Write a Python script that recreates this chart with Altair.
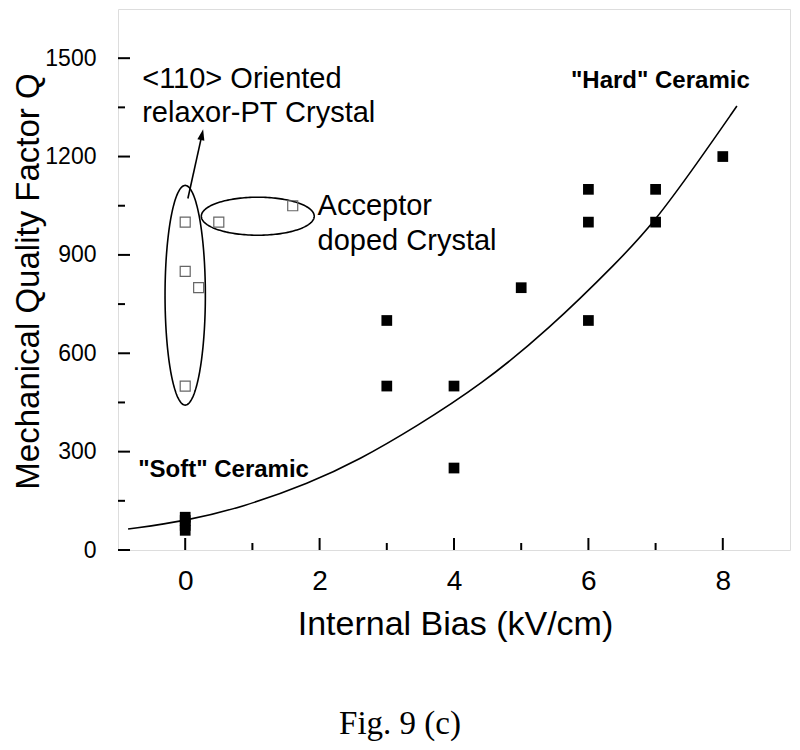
import altair as alt
import pandas as pd
import numpy as np

# ---- data ----
x_open = [0, 0, 0.2, 0, 0.5, 1.6]
q_open = [1000, 850, 800, 500, 1000, 1050]

x_fill = [0, 0, 0, 0, 3, 3, 4, 4, 5, 6, 6, 6, 7, 7, 8]
q_fill = [60, 75, 90, 100, 700, 500, 500, 250, 800, 1100, 1000, 700, 1100, 1000, 1200]

curve_x = [-0.85, 0, 0.86, 1.85, 2.59, 3.43, 4.41, 5.4, 6.46, 6.97, 7.62, 8.21]
curve_y = [64, 88, 131, 204, 275, 375, 505, 671, 884, 997, 1180, 1354]

x_major = [0, 2, 4, 6, 8]
x_minor = [1, 3, 5, 7]
y_major = [0, 300, 600, 900, 1200, 1500]
y_minor = [150, 450, 750, 1050, 1350]

# annotation ellipses (center / radii in data units)
ell_cx = [0, 1.08]
ell_cy = [777, 1018]
ell_rx = [0.30, 0.84]
ell_ry = [335, 58]

arrow_x = [0.04, 0.25]
arrow_y = [1072, 1267]

label_text = ["<110> Oriented", "relaxor-PT Crystal", "Acceptor", "doped Crystal"]
label_x = [-0.64, -0.64, 1.97, 1.97]
label_y = [1408, 1305, 1021, 915]

bold_text = ['"Hard" Ceramic', '"Soft" Ceramic']
bold_x = [5.74, -0.70]
bold_y = [1408, 223]

FONT = "Liberation Sans"
W, H = 672, 541

xs = alt.Scale(domain=[-1, 9], nice=False, zero=False)
ys = alt.Scale(domain=[0, 1650], nice=False, zero=False)


def X():
    return alt.X("x:Q", scale=xs, axis=alt.Axis(
        values=x_major, format="d", ticks=False, tickSize=0, domain=False, grid=False,
        labelFont=FONT, labelFontSize=28, labelPadding=17, labelColor="black",
        title="Internal Bias (kV/cm)", titleFont=FONT, titleFontSize=34,
        titleFontWeight="normal", titleColor="black",
        titleX=337, titleY=84, titleBaseline="alphabetic", titleAlign="center"))


def Y():
    return alt.Y("y:Q", scale=ys, axis=alt.Axis(
        values=y_major, format="d", ticks=False, tickSize=0, domain=False, grid=False,
        labelFont=FONT, labelFontSize=23, labelPadding=22, labelColor="black",
        title="Mechanical Quality Factor Q", titleFont=FONT, titleFontSize=33,
        titleFontWeight="normal", titleColor="black", titleAngle=-90,
        titleX=-80, titleY=272, titleBaseline="alphabetic", titleAlign="center"))


df_open = pd.DataFrame({"x": x_open, "y": q_open})
df_fill = pd.DataFrame({"x": x_fill, "y": q_fill})
df_curve = pd.DataFrame({"x": curve_x, "y": curve_y})

t = np.linspace(0, 2 * np.pi, 181)
ell_rows = []
for i in range(len(ell_cx)):
    for k, tt in enumerate(t):
        ell_rows.append({"x": ell_cx[i] + ell_rx[i] * np.cos(tt),
                         "y": ell_cy[i] + ell_ry[i] * np.sin(tt),
                         "e": i, "o": k})
df_ell = pd.DataFrame(ell_rows)

df_arrow = pd.DataFrame({"x": arrow_x, "y": arrow_y})
df_head = pd.DataFrame({"x": [arrow_x[-1]], "y": [arrow_y[-1]]})

df_lab = pd.DataFrame({"x": label_x, "y": label_y, "t": label_text})
df_bold = pd.DataFrame({"x": bold_x, "y": bold_y, "t": bold_text})

curve = alt.Chart(df_curve).mark_line(color="black", strokeWidth=1.6,
                                      interpolate="basis").encode(x=X(), y=Y())

open_pts = alt.Chart(df_open).mark_point(shape="square", filled=False, color="#666666",
                                         strokeWidth=1.2, size=100, opacity=1).encode(x=X(), y=Y())
fill_pts = alt.Chart(df_fill).mark_point(shape="square", filled=True, color="black",
                                         size=115, opacity=1).encode(x=X(), y=Y())

ellipses = alt.Chart(df_ell).mark_line(color="black", strokeWidth=1.6).encode(
    x=X(), y=Y(), detail="e:N", order="o:Q")

arrow = alt.Chart(df_arrow).mark_line(color="black", strokeWidth=1.6).encode(x=X(), y=Y())
head = alt.Chart(df_head).mark_point(shape="M0,-1L0.65,1L-0.65,1Z", filled=True, color="black",
                                     size=120, angle=12, opacity=1).encode(x=X(), y=Y())

labels = alt.Chart(df_lab).mark_text(align="left", baseline="alphabetic", font=FONT,
                                     fontSize=29, color="black").encode(x=X(), y=Y(), text="t:N")
bold = alt.Chart(df_bold).mark_text(align="left", baseline="alphabetic", font=FONT,
                                    fontSize=24, fontWeight="bold", color="black").encode(
    x=X(), y=Y(), text="t:N")

# inward tick marks
xmaj = alt.Chart(pd.DataFrame({"x": x_major})).mark_rule(color="black", strokeWidth=2).encode(
    x=X(), y=alt.value(H), y2=alt.value(H - 12))
xmin = alt.Chart(pd.DataFrame({"x": x_minor})).mark_rule(color="black", strokeWidth=2).encode(
    x=X(), y=alt.value(H), y2=alt.value(H - 7))
ymaj = alt.Chart(pd.DataFrame({"y": y_major})).mark_rule(color="black", strokeWidth=2).encode(
    y=Y(), x=alt.value(0), x2=alt.value(12))
ymin = alt.Chart(pd.DataFrame({"y": y_minor})).mark_rule(color="black", strokeWidth=2).encode(
    y=Y(), x=alt.value(0), x2=alt.value(7))

caption = alt.Chart(pd.DataFrame({"t": ["Fig. 9 (c)"]})).mark_text(
    font="Liberation Serif", fontSize=33, color="black", align="center", baseline="alphabetic").encode(
    x=alt.value(282), y=alt.value(725), text="t:N")

chart = alt.layer(
    xmaj, xmin, ymaj, ymin, curve, ellipses, arrow, head, open_pts, fill_pts, labels, bold, caption
).properties(
    width=W, height=H,
    padding={"left": 110, "top": 1, "right": 2, "bottom": 198},
    autosize=alt.AutoSizeParams(type="none"),
).configure_view(stroke="black", strokeWidth=2).configure(background="white")

chart.save("out.html", embed_options={"renderer": "svg", "actions": False})
